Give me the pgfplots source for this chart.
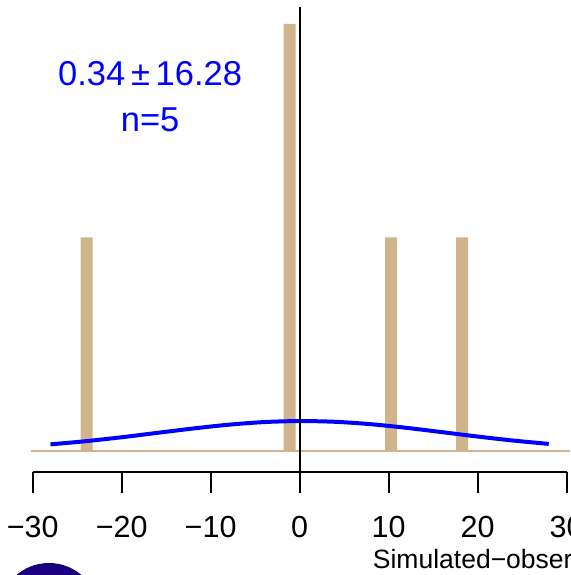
\documentclass[border=0pt]{standalone}
\usepackage{fontspec}
\setmainfont{Liberation Sans}
\usepackage{pgfplots}
\pgfplotsset{compat=1.18}
\definecolor{rtan}{HTML}{D2B48C}
\definecolor{navyblob}{RGB}{26,0,128}

\begin{document}
\begin{tikzpicture}[x=1pt,y=1pt]
  \begin{axis}[
    at={(0,0)}, anchor=south west,
    scale only axis, width=570pt, height=575pt,
    xmin=-33.67, xmax=30.39,
    ymin=-0.581, ymax=2.112,
    axis lines=none, clip=false,
    ]
    % histogram bars (counts)
    \addplot[ybar, bar width=12pt, fill=rtan, draw=none]
      coordinates {(-23.93,1) (-1.12,2) (10.28,1) (18.27,1)};
    % baseline
    \addplot[rtan, line width=1.5pt] coordinates {(-30.2,0) (30.39,0)};
    % fitted normal curve
    \addplot[blue, line width=4pt, smooth] coordinates {
      (-28,0.0308) (-24,0.0458) (-20,0.0641) (-16,0.0846) (-12,0.1050)
      (-8,0.1228) (-4,0.1352) (0,0.1400) (4,0.1365) (8,0.1253)
      (12,0.1083) (16,0.0881) (20,0.0675) (24,0.0487) (28,0.0330)};
    % zero line
    \addplot[black, line width=2pt] coordinates {(0,2.0796) (0,-0.0984)};
    % x axis
    \addplot[black, line width=2pt] coordinates {(-30,-0.0984) (30,-0.0984)};
    \foreach \t in {-30,-20,...,30} {
      \edef\tmp{\noexpand\draw[black, line width=2pt] (axis cs:\t,-0.0984) -- (axis cs:\t,-0.1967);}
      \tmp
    }
    \foreach \t/\l in {-30/−30,-20/−20,-10/−10,0/0,10/10,20/20,30/30} {
      \edef\tmp{\noexpand\node[font=\noexpand\fontsize{30.5}{36}\noexpand\selectfont, anchor=center] at (axis cs:\t,-0.356) {\l};}
      \tmp
    }
    \node[font=\fontsize{34.5}{40}\selectfont, text=blue] at (axis cs:-16.8,1.766) {0.34\,±\,16.28};
    \node[font=\fontsize{34.5}{40}\selectfont, text=blue] at (axis cs:-16.8,1.550) {n=5};
    \node[font=\fontsize{26.5}{30}\selectfont, anchor=base west, inner sep=0pt] at (axis cs:8.22,-0.5527) {Simulated−observed};
    \node[font=\bfseries\fontsize{36}{40}\selectfont, anchor=base west, inner sep=0pt] at (axis cs:3.2,2.150) {Bias (days)};
    \fill[navyblob] (axis cs:-28.17,-0.759) circle[radius=50pt];
  \end{axis}
  \pgfresetboundingbox
  \path (0,0) rectangle (570pt,575pt);
\end{tikzpicture}
\end{document}
